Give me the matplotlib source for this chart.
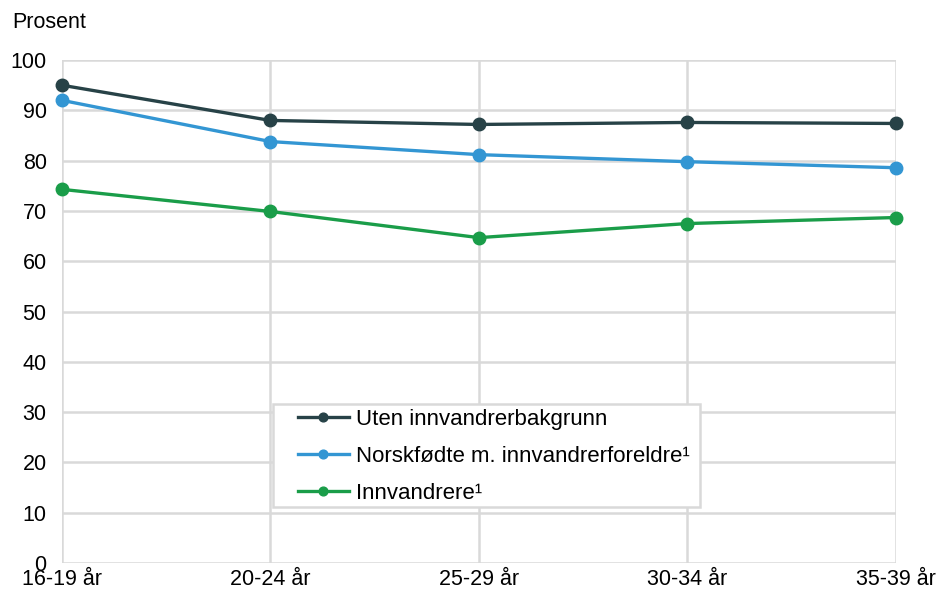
import matplotlib.pyplot as plt
from matplotlib.patches import Rectangle

plt.rcParams['font.family'] = ['Liberation Sans', 'DejaVu Sans']

age_groups = ["16-19 år", "20-24 år", "25-29 år", "30-34 år", "35-39 år"]
uten = [95.0, 88.0, 87.2, 87.6, 87.4]
norskfodte = [92.0, 83.8, 81.2, 79.8, 78.6]
innvandrere = [74.3, 69.9, 64.7, 67.5, 68.7]

series = [
    ("Uten innvandrerbakgrunn", uten, "#274247"),
    ("Norskfødte m. innvandrerforeldre¹", norskfodte, "#3396d3"),
    ("Innvandrere¹", innvandrere, "#1a9d49"),
]

fig = plt.figure(figsize=(9.38, 5.89), dpi=100)
ax = fig.add_axes([0.066, 0.044, 0.889, 0.854])

x = range(len(age_groups))
for name, vals, clr in series:
    ax.plot(x, vals, color=clr, lw=2.4, marker="o", ms=9, label=name,
            zorder=3, clip_on=False)

ax.set_xlim(0, len(age_groups) - 1)
ax.set_ylim(0, 100)
ax.set_yticks(range(0, 101, 10))
ax.set_xticks(list(x), age_groups)
ax.grid(True, color="#d9d9d9", lw=1.8)
ax.set_axisbelow(True)
for s in ax.spines.values():
    s.set_visible(False)
ax.tick_params(length=0, labelsize=15.5, colors="black")
ax.tick_params(axis="x", pad=4)
ax.tick_params(axis="y", pad=11)

fig.text(12 / 938, 1 - 22 / 589, "Prosent", fontsize=15.5, va="center", ha="left")

# legend box drawn separately so the side padding can be wider than the top
ax.add_patch(Rectangle((0.253, 0.111), 0.512, 0.205, transform=ax.transAxes,
                       facecolor="white", edgecolor="#d9d9d9", lw=1.8, zorder=4))
leg = ax.legend(loc="upper left", bbox_to_anchor=(0.283, 0.306), fontsize=16,
                frameon=False, handlelength=2.3, handletextpad=0.3,
                markerscale=0.7, borderpad=0, labelspacing=0.72, borderaxespad=0)
leg.set_zorder(5)

fig.savefig("out.png", dpi=100)
